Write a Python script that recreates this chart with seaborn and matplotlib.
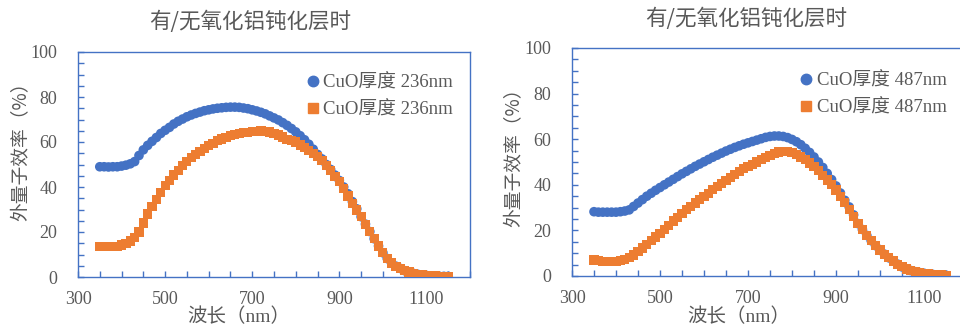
import matplotlib
matplotlib.use("Agg")
import matplotlib.pyplot as plt
from matplotlib.ticker import FixedLocator, MultipleLocator
from matplotlib.lines import Line2D
import numpy as np
import pandas as pd
import seaborn as sns

# wavelength grid (nm)
wavelength = np.arange(350, 1160, 10)

left_blue = [49.0, 49.0, 48.9, 49.0, 49.0, 49.3, 49.7, 50.3, 51.3, 54.0,
             56.5, 58.5, 60.3, 62.0, 63.8, 65.2, 66.5, 68.0, 69.2, 70.2,
             71.2, 72.0, 72.7, 73.3, 73.9, 74.3, 74.7, 75.0, 75.2, 75.4,
             75.5, 75.5, 75.4, 75.1, 74.8, 74.3, 73.8, 73.2, 72.5, 71.6,
             70.7, 69.8, 68.6, 67.4, 66.0, 64.5, 62.8, 61.0, 59.0, 56.8,
             54.5, 52.5, 50.0, 47.8, 45.3, 42.9, 40.0, 37.0, 33.5, 30.3,
             26.8, 23.5, 20.2, 17.0, 13.8, 10.8, 8.2, 6.2, 4.8, 3.8,
             2.8, 2.2, 1.6, 1.2, 0.9, 0.7, 0.5, 0.4, 0.3, 0.3, 0.3]
left_orange = [13.5, 13.5, 13.5, 13.5, 13.7, 14.2, 15.0, 16.0, 17.5, 20.0,
               24.0, 28.0, 31.5, 34.5, 37.5, 40.5, 43.0, 45.3, 47.5, 49.5,
               51.3, 53.0, 54.5, 55.8, 57.2, 58.4, 59.5, 60.5, 61.3, 62.0,
               62.8, 63.4, 63.8, 64.1, 64.3, 64.5, 64.8, 65.0, 64.8, 64.4,
               63.8, 63.1, 62.2, 61.2, 60.6, 60.0, 58.7, 57.5, 56.2, 55.0,
               53.6, 51.8, 49.6, 47.2, 44.8, 42.4, 39.2, 36.0, 32.8, 29.8,
               26.8, 23.5, 20.2, 17.0, 13.8, 10.8, 8.2, 6.2, 4.8, 3.8,
               2.8, 2.2, 1.6, 1.2, 0.9, 0.7, 0.5, 0.4, 0.3, 0.3, 0.3]
right_blue = [28.2, 28.0, 28.0, 28.0, 28.0, 28.0, 28.2, 28.5, 29.0, 30.5,
              32.0, 33.5, 35.0, 36.3, 37.6, 38.8, 40.0, 41.2, 42.4, 43.6,
              44.8, 45.9, 47.0, 48.1, 49.1, 50.1, 51.1, 52.1, 53.0, 53.9,
              54.8, 55.6, 56.4, 57.1, 57.8, 58.4, 59.0, 59.6, 60.2, 60.8,
              61.2, 61.4, 61.4, 61.2, 60.7, 59.9, 58.9, 57.6, 56.0, 54.2,
              52.2, 50.0, 47.6, 45.0, 42.3, 39.5, 36.4, 33.2, 30.3, 26.8,
              23.0, 20.4, 17.8, 15.5, 13.3, 11.4, 9.6, 8.0, 6.6, 5.2,
              4.0, 3.1, 2.4, 1.9, 1.5, 1.2, 0.9, 0.7, 0.5, 0.4, 0.3]
right_orange = [7.0, 6.8, 6.5, 6.3, 6.3, 6.5, 6.8, 7.3, 8.0, 9.2,
                10.7, 12.3, 13.9, 15.5, 17.1, 18.7, 20.5, 22.3, 24.1, 25.8,
                27.5, 29.0, 30.5, 32.0, 33.4, 34.8, 36.3, 37.8, 39.3, 40.7,
                42.0, 43.3, 44.6, 45.8, 47.0, 48.0, 49.0, 50.0, 51.0, 52.0,
                53.0, 53.8, 54.4, 54.6, 54.5, 54.0, 53.2, 52.2, 51.0, 49.6,
                48.0, 46.2, 44.2, 42.1, 40.0, 37.7, 35.0, 32.2, 29.3, 26.2,
                23.0, 20.4, 17.8, 15.5, 13.3, 11.4, 9.6, 8.0, 6.6, 5.2,
                4.0, 3.1, 2.4, 1.9, 1.5, 1.2, 0.9, 0.7, 0.5, 0.4, 0.3]

left_labels = ["CuO厚度 236nm", "CuO厚度 236nm"]
right_labels = ["CuO厚度 487nm", "CuO厚度 487nm"]
title = "有/无氧化铝钝化层时"
xlabel = "波长（nm）"
ylabel = "外量子效率（%）"
xticks = [300, 500, 700, 900, 1100]
yticks = [0, 20, 40, 60, 80, 100]

BLUE = "#4472C4"
ORANGE = "#ED7D31"
GRAY = "#595959"

sns.set_style("white")
plt.rcParams["font.family"] = ["Noto Sans CJK SC", "DejaVu Sans"]
serif = ["Liberation Serif", "Noto Sans CJK SC"]

fig = plt.figure(figsize=(9.6, 3.32), dpi=100)
ax1 = fig.add_axes([78 / 960, 55 / 332, 392 / 960, 225 / 332])
ax2 = fig.add_axes([572 / 960, 56 / 332, 396 / 960, 228 / 332])


def draw(ax, blue, orange, labels, anchor):
    df = pd.DataFrame({"wl": wavelength, "blue": blue, "orange": orange})
    sns.scatterplot(data=df, x="wl", y="blue", ax=ax, marker="o", s=48,
                    color=BLUE, edgecolor="none", zorder=2)
    sns.scatterplot(data=df, x="wl", y="orange", ax=ax, marker="s", s=44,
                    color=ORANGE, edgecolor="none", zorder=3)
    ax.set_xlim(300, 1200)
    ax.set_ylim(0, 100)
    ax.xaxis.set_major_locator(FixedLocator(xticks))
    ax.xaxis.set_minor_locator(MultipleLocator(50))
    ax.yaxis.set_major_locator(FixedLocator(yticks))
    ax.yaxis.set_minor_locator(MultipleLocator(5))
    ax.tick_params(which="both", direction="in", length=4, width=1,
                   color=BLUE, labelcolor=GRAY, labelsize=13,
                   labelfontfamily="Liberation Serif")
    ax.tick_params(axis="x", which="major", pad=10)
    ax.tick_params(axis="y", which="major", pad=15)
    ax.tick_params(which="both", top=False, right=False, bottom=True, left=True)
    for sp in ax.spines.values():
        sp.set_color(BLUE)
        sp.set_linewidth(1)
    ax.set_xlabel("")
    ax.set_ylabel("")
    handles = [Line2D([], [], marker="o", color=BLUE, ls="none", markersize=7.5),
               Line2D([], [], marker="s", color=ORANGE, ls="none", markersize=7)]
    ax.legend(handles, labels, loc="upper right", bbox_to_anchor=anchor,
              frameon=False, handletextpad=0.15, handlelength=0.8,
              labelspacing=0.5, borderaxespad=0,
              prop={"family": serif, "size": 13.5}, labelcolor=GRAY)


draw(ax1, left_blue, left_orange, left_labels, (0.975, 0.935))
draw(ax2, right_blue, right_orange, right_labels, (0.965, 0.925))

for cx, ty, xl_x, yl_x, yl_y in [(250, 22, 239, 21, 147), (746, 19, 739, 514, 153)]:
    fig.text(cx / 960, 1 - ty / 332, title, ha="center", va="center",
             fontsize=15.5, color=GRAY)
    fig.text(xl_x / 960, 1 - 317 / 332, xlabel, ha="center", va="center",
             fontsize=14, color=GRAY, family=serif)
    fig.text(yl_x / 960, 1 - yl_y / 332, ylabel, ha="center", va="center",
             rotation=90, fontsize=13.5, color=GRAY)

fig.savefig("out.png", dpi=100)
